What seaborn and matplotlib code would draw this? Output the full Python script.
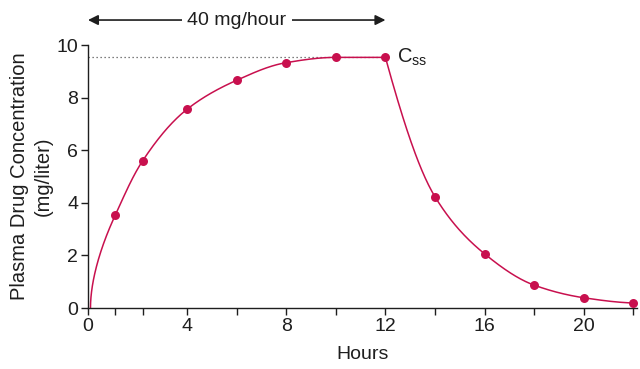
import numpy as np
import pandas as pd
import matplotlib
matplotlib.use("Agg")
import matplotlib.pyplot as plt
import seaborn as sns

# ---- data ----
rise_hours = [1.1, 2.2, 4, 6, 8, 10, 12]
rise_conc = [3.53, 5.59, 7.56, 8.66, 9.33, 9.53, 9.53]
decay_hours = [12, 14, 16, 18, 20, 22]
decay_conc = [9.53, 4.23, 2.06, 0.87, 0.39, 0.19]
curve_start_hour = 0.1
css_value = 9.53
infusion_end = 12
xtick_major = [0, 4, 8, 12, 16, 20]
xtick_all = [0, 1.1, 2.2, 4, 6, 8, 10, 12, 14, 16, 18, 20, 22]
ytick_vals = [0, 2, 4, 6, 8, 10]

COLOR = "#C8104E"
TXT = "#1e1e1e"
FS = 14


def pchip(x, y, xn):
    x = np.asarray(x, float); y = np.asarray(y, float)
    h = np.diff(x); d = np.diff(y) / h
    n = len(x); m = np.zeros(n)
    for k in range(1, n - 1):
        if d[k - 1] * d[k] <= 0:
            m[k] = 0
        else:
            w1 = 2 * h[k] + h[k - 1]; w2 = h[k] + 2 * h[k - 1]
            m[k] = (w1 + w2) / (w1 / d[k - 1] + w2 / d[k])

    def end(h0, h1, d0, d1):
        mm = ((2 * h0 + h1) * d0 - h0 * d1) / (h0 + h1)
        if np.sign(mm) != np.sign(d0):
            mm = 0
        elif np.sign(d0) != np.sign(d1) and abs(mm) > abs(3 * d0):
            mm = 3 * d0
        return mm
    m[0] = end(h[0], h[1], d[0], d[1])
    m[-1] = end(h[-1], h[-2], d[-1], d[-2])
    xn = np.asarray(xn, float)
    idx = np.clip(np.searchsorted(x, xn) - 1, 0, n - 2)
    t = (xn - x[idx]) / h[idx]
    h00 = 2 * t**3 - 3 * t**2 + 1; h10 = t**3 - 2 * t**2 + t
    h01 = -2 * t**3 + 3 * t**2; h11 = t**3 - t**2
    return h00 * y[idx] + h10 * h[idx] * m[idx] + h01 * y[idx + 1] + h11 * h[idx] * m[idx + 1]


sns.set_style("ticks")
plt.rcParams["font.family"] = ["Liberation Sans", "DejaVu Sans"]
plt.rcParams["mathtext.fontset"] = "custom"
plt.rcParams["mathtext.rm"] = "Liberation Sans"
plt.rcParams["mathtext.it"] = "Liberation Sans"

fig = plt.figure(figsize=(6.4, 3.69), dpi=100)
ax = fig.add_axes([0.1375, 0.1653, 0.9953 - 0.1375, 0.878 - 0.1653])

# smooth rising curve (interpolated in sqrt-time so it leaves zero steeply)
rx = np.array([curve_start_hour] + rise_hours)
ry = np.array([0] + rise_conc)
u = np.sqrt(rx - curve_start_hour)
us = np.linspace(0, u[-1], 400)
xs1 = us**2 + curve_start_hour
ys1 = pchip(u, ry, us)
xs2 = np.linspace(decay_hours[0], decay_hours[-1], 300)
ys2 = pchip(decay_hours, decay_conc, xs2)
curve = pd.DataFrame({"hours": np.concatenate([xs1, xs2]),
                      "conc": np.concatenate([ys1, ys2])})
sns.lineplot(data=curve, x="hours", y="conc", color=COLOR, lw=1.1,
             sort=False, estimator=None, ax=ax)

pts = pd.DataFrame({"hours": rise_hours + decay_hours[1:],
                    "conc": rise_conc + decay_conc[1:]})
sns.scatterplot(data=pts, x="hours", y="conc", color=COLOR, s=42,
                edgecolor=COLOR, linewidth=0, ax=ax, zorder=5, clip_on=False)

# steady-state dotted line
ax.plot([0, infusion_end], [css_value, css_value], ls=(0, (1, 2.2)),
        color="#555555", lw=0.9, zorder=1)
ax.text(infusion_end + 0.45, css_value, r"C$_{\mathrm{ss}}$", fontsize=14.5,
        va="center", ha="left", color=TXT)

# infusion arrow
ay = 1.095
ax.annotate("", xy=(0, ay), xycoords=("data", "axes fraction"),
            xytext=(infusion_end, ay), textcoords=("data", "axes fraction"),
            arrowprops=dict(arrowstyle="<|-|>", color=TXT, lw=1.2,
                            mutation_scale=15, shrinkA=0, shrinkB=0),
            annotation_clip=False)
ax.text(infusion_end / 2, ay, "40 mg/hour", transform=ax.get_xaxis_transform(),
        ha="center", va="center", fontsize=FS, color=TXT,
        bbox=dict(facecolor="white", edgecolor="none", pad=4))

ax.set_xlim(0, 22.15)
ax.set_ylim(0, 10)
ax.set_xticks(xtick_all)
ax.set_xticklabels([str(v) if v in xtick_major else "" for v in xtick_all])
ax.set_yticks(ytick_vals)
ax.tick_params(axis="both", labelsize=FS, length=5, width=1, colors=TXT,
               direction="out", pad=2)
for s in ["top", "right"]:
    ax.spines[s].set_visible(False)
for s in ["left", "bottom"]:
    ax.spines[s].set_linewidth(1)
    ax.spines[s].set_color(TXT)
ax.set_xlabel("Hours", fontsize=FS, color=TXT, labelpad=8)
ax.set_ylabel("Plasma Drug Concentration\n(mg/liter)", fontsize=14.5,
              color=TXT, labelpad=3, linespacing=1.3)

fig.savefig("out.png", dpi=100)
